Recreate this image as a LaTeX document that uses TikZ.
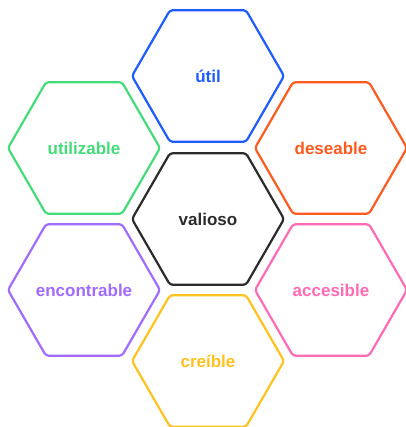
\documentclass[tikz,border=0pt]{standalone}
\usepackage{fontspec}
\setmainfont{Liberation Sans}
\usepackage{xcolor}
\usepackage{tikz}
\usetikzlibrary{
    positioning,
    calc,
    shapes.geometric
}
\definecolor{honeyblue}{HTML}{1F5CFF}
\definecolor{honeygreen}{HTML}{45DB7A}
\definecolor{honeyorange}{HTML}{FF5A1F}
\definecolor{honeypurple}{HTML}{A16BFF}
\definecolor{honeypink}{HTML}{FF6BB5}
\definecolor{honeyyellow}{HTML}{FFC21F}
\definecolor{honeydark}{HTML}{2B2B2B}
\tikzset{
    honeycell/.style={
        regular polygon,
        regular polygon sides=6,
        minimum size=152pt,
        inner xsep=-20pt,
        inner ysep=0pt,
        line width=2.2pt,
        rounded corners=3pt,
        font=\fontsize{17}{19}\selectfont\bfseries
    }
}
\tikzset{
    cellcolor/.style={
        draw=#1,
        text=#1
    }
}

\begin{document}
\begin{tikzpicture}[
    x=1pt,
    y=1pt
]

\useasboundingbox[fill=white] (0,0) rectangle (405,427);

% =========================================================
% Centre cell
% =========================================================

\node[honeycell, cellcolor=honeydark] (valioso) at (208,208) {valioso};

% =========================================================
% Ring of cells around it
% =========================================================

\node[honeycell, cellcolor=honeyblue] (util) at (208,351) {útil};
\node[honeycell, cellcolor=honeygreen] (utilizable) at (84,279) {utilizable};
\node[honeycell, cellcolor=honeyorange] (deseable) at (331,279) {deseable};
\node[honeycell, cellcolor=honeypurple] (encontrable) at (84,137) {encontrable};
\node[honeycell, cellcolor=honeypink] (accesible) at (331,137) {accesible};
\node[honeycell, cellcolor=honeyyellow] (creible) at (208,66) {creíble};

\end{tikzpicture}
\end{document}
